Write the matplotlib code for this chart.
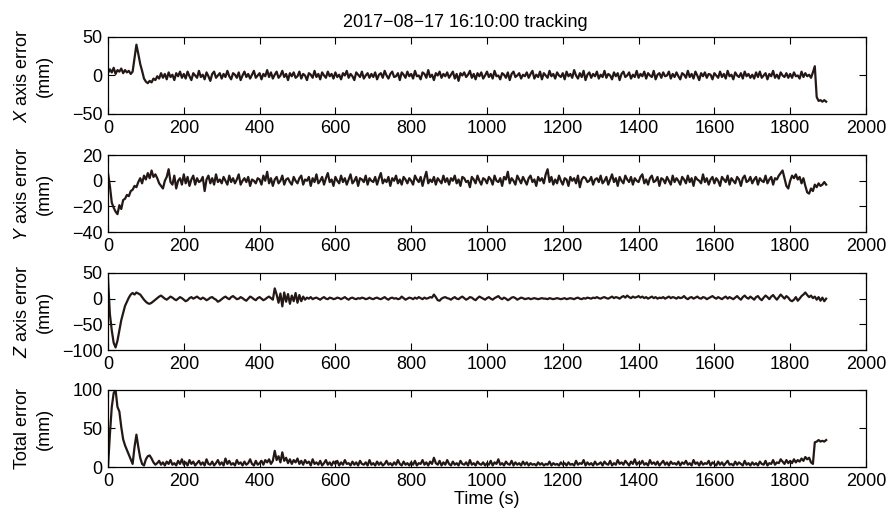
import numpy as np
import matplotlib
matplotlib.use("Agg")
import matplotlib.pyplot as plt

plt.rcParams["font.family"] = ["Liberation Sans", "DejaVu Sans"]
plt.rcParams["mathtext.fontset"] = "custom"
plt.rcParams["mathtext.rm"] = "Liberation Sans"
plt.rcParams["mathtext.it"] = "Liberation Sans:italic"

# time axis: one sample every 5 s, 0 .. 1895 s
time_s = np.arange(0, 1900, 5)

x_err = [
    3, 8, 4, 10, 2, 7, 5, 9, 3, 7, 4, 6, 2, 5, 22, 40, 28, 15, 6, -4,
    -8, -10, -7, -9, -4, -6, -1, -4, 3, -3, 2, -5, 4, -2, 1, -6, 3, -1, 5, -3,
    2, -4, 5, -1, -6, 3, 0, -3, 6, -2, 1, -5, 4, -1, -7, 2, 5, -3, 0, 3,
    -4, 2, -2, 6, -1, -5, 3, 1, -3, 4, -6, 0, 5, -2, 2, -4, 1, 6, -3, 0,
    3, -5, 2, -1, 7, -2, 4, -4, 1, 5, -3, 0, 6, -2, 2, -6, 3, -1, 4, -3,
    -1, 5, -4, 2, 0, -6, 3, 1, -3, 6, -2, 2, -5, 4, 0, -3, 5, -1, 2, -4,
    4, -2, 1, -5, 3, 0, 6, -3, 2, -1, -6, 4, 1, -2, 5, -4, 0, 3, -3, 2,
    -2, 4, -5, 1, 3, -3, 6, 0, -4, 2, 5, -2, -1, 3, -6, 4, 1, -3, 5, -1,
    2, -4, 6, -1, 0, -5, 4, 2, -3, 7, -2, 1, -6, 3, 0, 5, -3, 2, -1, 4,
    -3, 1, 5, -4, 2, -7, 3, 0, 4, -2, 1, 6, -3, 2, -5, 3, -1, 4, -4, 0,
    5, -2, 2, -4, 6, -1, 0, -5, 3, 1, -3, 4, -6, 2, 5, -2, 0, 3, -4, 1,
    -1, 4, -3, 2, 6, -4, 1, -2, 5, -5, 3, 0, -3, 6, -1, 2, -4, 4, 0, -2,
    3, -5, 5, -1, 2, -3, 7, 0, -4, 3, -2, 6, -6, 1, 4, -3, 2, -1, 5, -4,
    1, -2, 6, -3, 2, 0, -5, 4, -1, 3, -6, 2, 5, -2, 0, 4, -4, 1, -2, 6,
    -3, 2, -1, 5, -4, 3, 0, -2, 6, -5, 1, 3, -3, 4, -1, 0, 5, -4, 2, -2,
    4, -1, -5, 3, 1, -3, 6, -2, 2, -4, 5, 0, -6, 3, -1, 4, -3, 2, 1, -5,
    3, 0, -3, 5, -2, 2, -4, 6, -1, 1, -5, 4, 0, -2, 3, -4, 5, -1, 2, -3,
    1, -4, 4, -2, 5, -3, 0, 3, -5, 2, -1, 6, -3, 1, -4, 4, 0, -2, 3, -3,
    2, -3, 4, -1, 0, -4, 5, -2, 3, -1, 1, -3, 4, 12, -28, -33, -32, -34, -32, -34,
]

y_err = [
    6, -4, -17, -21, -24, -26, -19, -22, -15, -14, -11, -12, -8, -7, -4, -5, -1, 2, -2, 4,
    1, 6, 2, 8, 3, 5, 2, -2, -4, -6, 0, 3, 9, -1, -3, 4, -6, 0, 2, -3,
    5, -2, 3, -4, 1, 4, -3, 2, -1, 0, 3, -8, 1, 4, -2, 2, -3, 5, -1, 1,
    -2, 3, 0, -3, 4, -1, 2, -2, 1, 5, -3, 0, 2, -1, 3, -4, 1, 0, -2, 2,
    1, -3, 4, 0, 7, -2, 2, -4, 1, 3, -2, 0, 4, -3, 1, 2, -1, -3, 3, 0,
    -2, 2, 4, -3, 1, 0, 3, -4, 2, -1, 5, -2, 0, 3, -3, 2, 6, -1, 1, -4,
    3, 0, -2, 4, -1, 2, -3, 1, 5, -2, 0, 3, -4, 2, 1, -1, 4, -3, 2, 0,
    -1, 3, -3, 2, 6, -2, 1, -1, 3, -4, 2, 0, 4, -2, 1, -3, 3, 1, -2, 2,
    0, -3, 4, 1, -1, 3, -4, 2, 7, -2, 1, -1, 3, -3, 2, 0, -2, 4, -1, 2,
    -3, 2, 0, 4, -2, 1, -4, 3, 2, -1, 0, -5, 3, 1, -2, 4, 0, -3, 2, 1,
    -2, 3, 1, -3, 4, 0, -1, 2, -4, 3, 1, 7, -2, 2, 0, -3, 4, 1, -2, 3,
    0, -3, 2, 4, -1, 1, -4, 3, 0, 2, -2, 5, 9, -1, 3, -3, 1, -2, 4, 0,
    -3, 2, 1, -4, 3, 0, 2, -2, 4, -5, 1, 3, 2, -1, 0, 3, -3, 1, 2, -1,
    4, -2, 0, 3, -3, 1, 5, -1, 2, -4, 3, 0, -2, 4, 1, -1, 3, -3, 2, 0,
    -1, 3, 5, -2, 1, -3, 2, 4, -1, 0, 3, -4, 2, 1, -2, 3, 0, -3, 4, -1,
    2, 0, -3, 3, 1, -2, 4, -1, 2, -4, 3, 1, 0, -2, 5, -1, 2, -3, 1, 3,
    -2, 2, 0, -4, 3, 1, -1, 4, -3, 2, 0, -2, 3, 1, -4, 2, 4, -1, 0, 3,
    -2, 1, 3, -3, 2, 0, -1, 4, -2, 1, 3, -3, 2, 1, 4, 6, 8, 2, -4, -6,
    0, 4, 2, 5, 1, 3, -2, 2, -4, -9, -10, -6, -8, -3, -5, -2, -4, -3, -1, -3,
]

z_err = [
    40, -30, -62, -86, -95, -82, -62, -42, -28, -14, -6, 2, 8, 11, 8, 12, 10, 8, 3, -2,
    -6, -9, -10, -8, -5, -2, 1, 4, 6, 3, 0, -2, 1, 4, 2, -1, -3, 0, 3, 1,
    -2, -5, -3, 1, 3, 0, 2, 4, 1, -1, 2, 0, -3, -1, 2, 3, 0, -2, -6, -4,
    -1, 2, 4, 1, -1, 3, 5, 2, -1, 0, 3, 1, -2, -4, 0, 4, 2, -1, -3, 1,
    3, 0, -3, -1, 2, 4, 1, -2, 20, 8, -8, 10, -15, 12, -6, 9, -10, 6, -5, 11,
    -8, 7, -5, 4, -2, 2, 0, 3, -1, 1, 2, 0, -2, 1, 3, 0, -1, 2, 1, -1,
    0, 2, 1, -1, 1, 3, 0, -2, 1, 2, 0, -1, 1, 0, 2, 1, -1, 0, 2, 0,
    -1, 1, 2, 0, -1, 1, 3, 0, -2, 1, 2, 0, 1, -1, 0, 4, 1, -2, 0, 2,
    1, -1, 2, 0, 3, 1, -1, 2, 0, 1, 3, 2, 8, 3, -3, -4, 0, 2, 3, 1,
    0, -2, 1, 3, 0, -1, 2, 4, 1, -2, 0, 3, 2, -1, -3, 1, 4, 2, 0, -2,
    1, 3, 0, -2, 1, 3, 5, 1, -1, 2, 0, -3, -1, 2, 3, 1, -2, 0, 2, 1,
    -1, 0, 1, -1, 0, 1, 0, -1, 0, 1, 0, 0, -1, 1, 0, -1, 0, 1, 0, -1,
    0, 1, -1, 0, 1, 0, -1, 1, 2, 0, -1, 1, 0, 2, 1, 0, 2, 1, 3, 1,
    0, 2, 3, 1, 0, 2, 4, 1, 3, 2, 0, 3, 5, 2, 6, 3, 1, 4, 2, 3,
    5, 2, 4, 1, 3, 0, 2, 4, 1, 3, 0, 2, 1, 3, 0, 2, 4, 1, 3, 2,
    0, 3, 1, 2, 5, 1, -1, 2, 3, 0, 2, 4, 1, 0, 3, 2, -1, 1, 3, 5,
    2, 0, 3, 1, -1, 2, 4, 0, 3, 1, -1, 2, 5, 1, -2, 3, 6, 2, 0, 4,
    1, -2, 3, 5, 0, -3, 2, 6, 3, -1, 4, 7, 2, -2, 3, 8, 4, 0, 5, 2,
    -3, -5, -2, 3, -4, 0, 5, 8, 12, 7, 3, 6, 1, 4, -2, 3, -4, 2, -5, 0,
]

total_err = [
    0, 42, 78, 96, 100, 78, 72, 52, 36, 28, 22, 16, 10, 4, 26, 42, 26, 12, 4, 2,
    10, 14, 15, 11, 6, 3, 5, 8, 3, 6, 2, 7, 4, 9, 3, 5, 2, 8, 4, 10,
    3, 6, 2, 9, 4, 7, 2, 5, 8, 3, 6, 2, 10, 4, 3, 7, 2, 5, 9, 3,
    6, 2, 11, 4, 8, 3, 5, 2, 9, 4, 6, 2, 7, 3, 5, 10, 4, 2, 8, 3,
    5, 8, 3, 9, 6, 10, 4, 8, 21, 9, 14, 6, 19, 8, 12, 5, 10, 4, 9, 6,
    11, 4, 8, 3, 9, 5, 7, 2, 10, 4, 6, 3, 8, 2, 5, 9, 3, 6, 2, 7,
    4, 8, 2, 6, 3, 9, 4, 5, 2, 7, 3, 6, 2, 8, 4, 3, 6, 2, 9, 3,
    5, 2, 7, 3, 6, 2, 4, 8, 3, 5, 2, 6, 3, 9, 4, 2, 7, 3, 5, 2,
    6, 3, 8, 2, 5, 4, 9, 3, 6, 2, 7, 4, 12, 5, 3, 8, 2, 6, 3, 9,
    4, 2, 7, 3, 5, 2, 8, 4, 3, 6, 2, 9, 3, 5, 2, 7, 4, 3, 6, 2,
    5, 3, 8, 2, 6, 4, 10, 3, 5, 2, 7, 4, 3, 8, 2, 6, 3, 5, 2, 7,
    3, 6, 2, 5, 3, 4, 2, 6, 3, 5, 2, 4, 3, 7, 2, 5, 3, 4, 2, 6,
    3, 5, 2, 6, 3, 4, 2, 8, 3, 5, 4, 9, 2, 6, 3, 5, 2, 7, 3, 4,
    6, 2, 7, 4, 3, 8, 2, 5, 3, 9, 4, 6, 3, 8, 5, 2, 7, 4, 10, 3,
    6, 4, 8, 3, 5, 2, 9, 4, 6, 3, 7, 2, 5, 8, 3, 6, 2, 7, 4, 5,
    3, 7, 2, 6, 4, 8, 3, 5, 2, 9, 4, 6, 2, 7, 3, 5, 4, 8, 2, 6,
    4, 2, 7, 3, 6, 2, 5, 8, 3, 4, 2, 7, 3, 6, 4, 2, 8, 3, 5, 2,
    6, 3, 5, 2, 7, 4, 3, 8, 2, 5, 4, 9, 3, 6, 5, 10, 7, 4, 9, 5,
    8, 5, 10, 6, 9, 7, 11, 8, 13, 10, 12, 6, 4, 32, 33, 35, 33, 34, 33, 35,
]

series = [x_err, y_err, z_err, total_err]
labels = ["$\\it{X}$ axis error\n(mm)", "$\\it{Y}$ axis error\n(mm)",
          "$\\it{Z}$ axis error\n(mm)", "Total error\n(mm)"]
ylims = [(-50, 50), (-40, 20), (-100, 50), (0, 100)]
yticks = [[-50, 0, 50], [-40, -20, 0, 20], [-100, -50, 0, 50], [0, 50, 100]]
xticks = list(range(0, 2001, 200))

line_color = "#231815"

fig = plt.figure(figsize=(8.91, 5.17), dpi=100)
bottoms = [0.7795, 0.551, 0.323, 0.0967]

for i in range(4):
    ax = fig.add_axes([0.1212, bottoms[i], 0.8507, 0.149])
    ax.plot(time_s, series[i], color=line_color, linewidth=1.6)
    ax.set_xlim(0, 2000)
    ax.set_ylim(*ylims[i])
    ax.set_xticks(xticks)
    ax.set_yticks(yticks[i])
    ax.tick_params(direction="in", length=5, width=0.8, top=True, right=True,
                   labelsize=13, pad=4)
    for sp in ax.spines.values():
        sp.set_linewidth(0.9)
    ax.set_ylabel(labels[i], fontsize=13, linespacing=1.35)
    ax.yaxis.set_label_coords(-0.073, 0.5)
    if i == 0:
        ax.set_title("2017\u221208\u221217 16:10:00 tracking", fontsize=13,
                     pad=7, x=0.471)
    if i == 3:
        ax.set_xlabel("Time (s)", fontsize=13, labelpad=1)

fig.savefig("out.png", dpi=100)
